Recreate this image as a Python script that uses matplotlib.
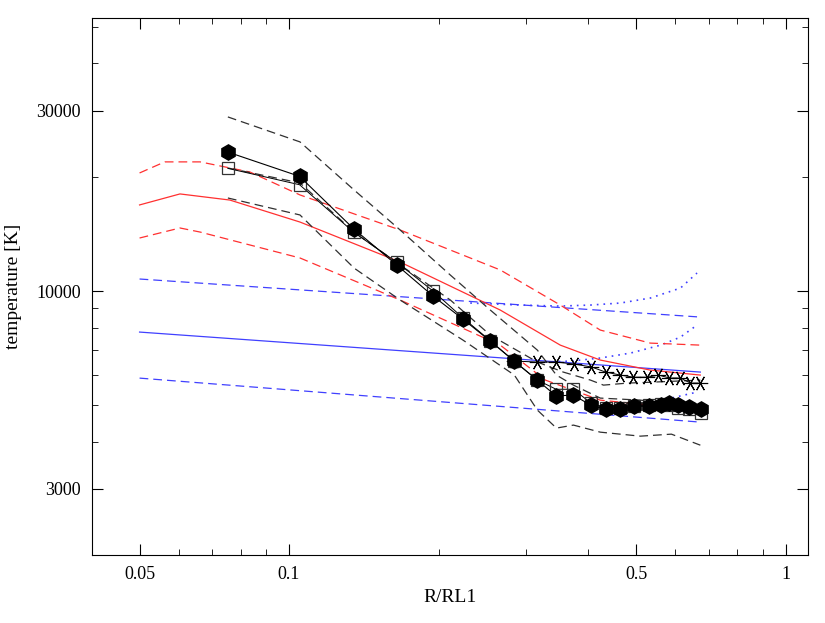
import matplotlib
matplotlib.use("Agg")
import matplotlib.pyplot as plt
from matplotlib.ticker import FixedLocator, NullFormatter

# hexagons (filled) and squares (open)
r_obs = [0.0753,0.105,0.135,0.165,0.195,0.224,0.254,0.284,0.316,0.345,0.374,0.405,0.434,0.465,0.496,0.530,0.560,0.583,0.608,0.640,0.675]
t_hex = [23300,20100,14600,11700,9700,8430,7380,6530,5820,5280,5310,4990,4870,4870,4960,4960,4990,5060,4990,4930,4870]
t_sq = [21100,19100,14300,11900,10000,8490,7400,6530,5820,5500,5500,5060,4900,4900,4960,4990,5030,4990,4900,4870,4770]
r_ast = [0.284,0.316,0.3455,0.3755,0.4064,0.434,0.465,0.4937,0.527,0.5546,0.5836,0.6141,0.6433,0.6735]
t_ast = [6530,6491,6491,6410,6300,6106,5996,5920,5920,5996,5890,5890,5710,5710]

# black dashed envelopes
r_bu = [0.0753,0.1052,0.1352,0.1674,0.2113,0.2543,0.3163,0.3455,0.3739,0.4234,0.5100,0.6735]
t_bu = [28860,24790,18500,14500,11020,8907,6980,5996,5640,5212,5148,4903]
r_bm = [0.0753,0.1052,0.1352,0.1674,0.2113,0.2543,0.3163,0.3567,0.4045,0.4298,0.4804,0.5340,0.6735]
t_bm = [21150,19310,14320,11720,9467,7647,6491,6106,5816,5640,5710,5740,5816]
r_bl = [0.0753,0.1052,0.1352,0.1674,0.2240,0.2843,0.3163,0.3455,0.3739,0.4234,0.5100,0.5889,0.6735]
t_bl = [17620,15890,11500,9467,7419,5996,4845,4342,4422,4236,4134,4185,3913]

# red model
r_red = [0.050,0.0603,0.0760,0.1052,0.1674,0.2663,0.3518,0.4234,0.5340,0.6735]
t_red = [16890,18060,17400,15220,11930,8907,7195,6570,6180,5996]
r_ru = [0.050,0.0562,0.0662,0.0834,0.1052,0.1674,0.2663,0.3518,0.4234,0.5340,0.6735]
t_ru = [20520,21950,21950,20640,17950,14500,11370,9182,7886,7284,7195]
r_rl = [0.050,0.0603,0.0662,0.1052,0.1674,0.2663,0.3282,0.4234,0.5340,0.6735]
t_rl = [13810,14680,14320,12230,9467,7195,5816,5148,4994,4994]

# blue model
r_blue = [0.050,0.6735]
t_blue = [7790,6106]
t_blue_u = [10760,8535]
t_blue_l = [5886,4503]
r_bd1 = [0.2317,0.2920,0.3518,0.4045,0.4650,0.5340,0.6140,0.6632]
t_bd1 = [9296,9182,9126,9182,9296,9583,10180,11160]
r_bd2 = [0.3282,0.3696,0.4234,0.4871,0.5602,0.6140,0.6632]
t_bd2 = [6491,6530,6651,6855,7195,7554,8128]
r_bd3 = [0.4234,0.5100,0.5889,0.6632]
t_bd3 = [4845,4994,5212,5406]

fig = plt.figure(figsize=(8.25,6.23), dpi=100)
ax = fig.add_axes([0.1115,0.1091,0.868,0.862])
ax.set_xscale("log"); ax.set_yscale("log")
ax.set_xlim(0.0401,1.11); ax.set_ylim(2005,52700)

ax.plot(r_blue,t_blue,color="#4040ff",lw=0.9)
ax.plot(r_blue,t_blue_u,color="#4040ff",lw=0.9,ls=(0,(7,4)))
ax.plot(r_blue,t_blue_l,color="#4040ff",lw=0.9,ls=(0,(7,4)))
for rr,tt in [(r_bd1,t_bd1),(r_bd2,t_bd2),(r_bd3,t_bd3)]:
    ax.plot(rr,tt,color="#4040ff",lw=1.2,ls=(0,(1,3)))
ax.plot(r_red,t_red,color="#ff3030",lw=0.9)
ax.plot(r_ru,t_ru,color="#ff3030",lw=0.9,ls=(0,(7,4)))
ax.plot(r_rl,t_rl,color="#ff3030",lw=0.9,ls=(0,(7,4)))
for rr,tt in [(r_bu,t_bu),(r_bm,t_bm),(r_bl,t_bl)]:
    ax.plot(rr,tt,color="#303030",lw=0.9,ls=(0,(7,4)))
ax.plot(r_ast,t_ast,color="black",lw=0.7,marker=(6,2,90),ms=11,mew=0.8)
ax.plot(r_obs,t_sq,color="black",lw=0.7,marker="s",ms=8,mfc="none",mec="#333333",mew=0.9)
ax.plot(r_obs,t_hex,color="black",lw=0.8,marker="h",ms=11)

ax.xaxis.set_major_locator(FixedLocator([0.05,0.1,0.5,1]))
ax.xaxis.set_minor_locator(FixedLocator([0.06,0.07,0.08,0.09,0.2,0.3,0.4,0.6,0.7,0.8,0.9]))
ax.set_xticklabels(["0.05","0.1","0.5","1"])
ax.xaxis.set_minor_formatter(NullFormatter())
ax.yaxis.set_major_locator(FixedLocator([3000,10000,30000]))
ax.yaxis.set_minor_locator(FixedLocator([4000,5000,6000,7000,8000,9000,20000,40000,50000]))
ax.set_yticklabels(["3000","10000","30000"])
ax.yaxis.set_minor_formatter(NullFormatter())
ax.tick_params(which="both",direction="in",top=True,right=True,labelsize=13,pad=8)
ax.tick_params(which="major",length=8)
ax.tick_params(which="minor",length=4)
for lab in ax.get_xticklabels()+ax.get_yticklabels():
    lab.set_family("Liberation Serif")
ax.set_xlabel("R/RL1",fontsize=14,family="Liberation Serif")
ax.set_ylabel("temperature [K]",fontsize=14,family="Liberation Serif",labelpad=10)
fig.savefig("out.png")
